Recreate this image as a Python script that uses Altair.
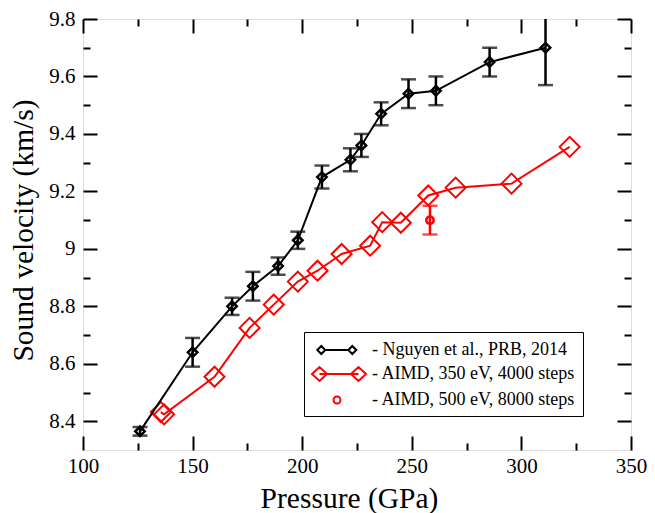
import altair as alt
import pandas as pd

# ---------------- data ----------------
nguyen_p = [126, 150, 168, 177.5, 189, 198, 209, 222, 227, 236, 248.5, 261, 285.5, 311]
nguyen_v = [8.365, 8.64, 8.80, 8.87, 8.94, 9.03, 9.25, 9.31, 9.36, 9.47, 9.54, 9.55, 9.65, 9.70]
nguyen_err = [0.015, 0.05, 0.03, 0.05, 0.03, 0.03, 0.04, 0.04, 0.04, 0.04, 0.05, 0.05, 0.05, 0.13]

aimd350_p = [135.5, 137, 160, 176, 187, 198, 207, 218, 231, 236.5, 245, 257.5, 270, 295.5, 322]
aimd350_v = [8.432, 8.424, 8.555, 8.725, 8.806, 8.886, 8.924, 8.982, 9.011, 9.093, 9.091, 9.186, 9.213, 9.227, 9.355]

aimd500_p = [258.3]
aimd500_v = [9.10]
aimd500_err = [0.05]

series_names = ["- Nguyen et al., PRB, 2014",
                "- AIMD, 350 eV, 4000 steps",
                "- AIMD, 500 eV, 8000 steps"]

x_major = [100, 150, 200, 250, 300, 350]
x_minor = [125, 175, 225, 275, 325]
y_major = [8.4, 8.6, 8.8, 9.0, 9.2, 9.4, 9.6, 9.8]
y_minor = [8.5, 8.7, 8.9, 9.1, 9.3, 9.5, 9.7]

# ---------------- tables ----------------
df_n = pd.DataFrame({"p": nguyen_p, "v": nguyen_v,
                     "lo": [v - e for v, e in zip(nguyen_v, nguyen_err)],
                     "hi": [v + e for v, e in zip(nguyen_v, nguyen_err)]})
df_a = pd.DataFrame({"p": aimd350_p, "v": aimd350_v})
df_b = pd.DataFrame({"p": aimd500_p, "v": aimd500_v,
                     "lo": [v - e for v, e in zip(aimd500_v, aimd500_err)],
                     "hi": [v + e for v, e in zip(aimd500_v, aimd500_err)]})
df_leg = pd.DataFrame({"p": [nguyen_p[0], aimd350_p[0], aimd500_p[0]],
                       "v": [nguyen_v[0], aimd350_v[0], aimd500_v[0]],
                       "series": series_names})

W, H = 548, 431
TOP = 11
FONT = "Liberation Serif, Times New Roman, Times, DejaVu Serif, serif"

xs = alt.Scale(domain=[100, 350], nice=False, zero=False)
ys = alt.Scale(domain=[8.3, 9.8], nice=False, zero=False)


def tick_axis(orient, values, size, offset):
    return alt.Axis(orient=orient, values=values, tickSize=size, tickWidth=2,
                    tickColor="black", labels=False, domain=False, grid=False,
                    title=None, offset=offset)


x_main = alt.Axis(orient="bottom", values=x_major, ticks=False, tickSize=0,
                  domain=False, grid=False, labelFont=FONT, labelFontSize=21,
                  labelColor="black", labelPadding=5, labelFlush=False,
                  labelOverlap=False,
                  title="Pressure (GPa)", titleFont=FONT, titleFontSize=29.5,
                  titleFontWeight="normal", titleColor="black",
                  titleX=266, titleY=57, titleBaseline="alphabetic")
y_main = alt.Axis(orient="left", values=y_major, format="~g", ticks=False,
                  tickSize=0, domain=False, grid=False, labelFont=FONT,
                  labelFontSize=21, labelColor="black", labelPadding=8,
                  labelFlush=False, labelOverlap=False,
                  title="Sound velocity (km/s)", titleFont=FONT,
                  titleFontSize=29.5, titleFontWeight="normal",
                  titleColor="black", titleX=-51, titleY=211,
                  titleBaseline="alphabetic")

axis_pairs = [
    (x_main, y_main),
    (tick_axis("top", x_major, 14, -H), tick_axis("right", y_major, 14, -W)),
    (tick_axis("top", x_minor, 7, -H), tick_axis("right", y_minor, 7, -W)),
    (tick_axis("bottom", x_major, 14, -H), tick_axis("left", y_major, 14, -W)),
    (tick_axis("bottom", x_minor, 7, -H), tick_axis("left", y_minor, 7, -W)),
]

axis_layers = [
    alt.Chart(df_n).mark_point(opacity=0).encode(
        x=alt.X("p:Q", scale=xs, axis=xa),
        y=alt.Y("v:Q", scale=ys, axis=ya))
    for xa, ya in axis_pairs
]

X = alt.X("p:Q", scale=xs, axis=None)
Y = alt.Y("v:Q", scale=ys, axis=None)

# red 350 eV
red_line = alt.Chart(df_a).mark_line(color="red", strokeWidth=2).encode(x=X, y=Y, order="p:Q")
red_pts = alt.Chart(df_a).mark_point(shape="diamond", size=400, filled=False,
                                     color="red", strokeWidth=2, opacity=1).encode(x=X, y=Y)

# red 500 eV
b_err = alt.Chart(df_b).mark_rule(color="red", strokeWidth=2.5).encode(
    x=X, y=alt.Y("lo:Q", scale=ys, axis=None), y2="hi:Q")
b_caps_lo = alt.Chart(df_b).mark_tick(color="red", orient="horizontal", size=15, thickness=2.5).encode(
    x=X, y=alt.Y("lo:Q", scale=ys, axis=None))
b_caps_hi = alt.Chart(df_b).mark_tick(color="red", orient="horizontal", size=15, thickness=2.5).encode(
    x=X, y=alt.Y("hi:Q", scale=ys, axis=None))
b_pt = alt.Chart(df_b).mark_point(shape="circle", size=55, filled=False,
                                  color="red", strokeWidth=2.5, opacity=1).encode(x=X, y=Y)

# black Nguyen
n_line = alt.Chart(df_n).mark_line(color="black", strokeWidth=2).encode(x=X, y=Y, order="p:Q")
n_err = alt.Chart(df_n).mark_rule(color="black", strokeWidth=2.5, clip=True).encode(
    x=X, y=alt.Y("lo:Q", scale=ys, axis=None), y2="hi:Q")
n_caps_lo = alt.Chart(df_n).mark_tick(color="black", orient="horizontal", size=15,
                                      thickness=2.5, clip=True).encode(
    x=X, y=alt.Y("lo:Q", scale=ys, axis=None))
n_caps_hi = alt.Chart(df_n).mark_tick(color="black", orient="horizontal", size=15,
                                      thickness=2.5, clip=True).encode(
    x=X, y=alt.Y("hi:Q", scale=ys, axis=None))
n_pts = alt.Chart(df_n).mark_point(shape="diamond", size=90, filled=False,
                                   color="black", strokeWidth=2.5, opacity=1).encode(x=X, y=Y)

# legend (symbols are custom paths: line + markers)
black_sym = "M-0.47,0L-0.07,-0.4L0.33,0L-0.07,0.4Z M2.63,0L3.03,-0.4L3.43,0L3.03,0.4Z M0.33,0L2.63,0"
red_sym = "M-1,0L-0.25,-0.7L0.5,0L-0.25,0.7Z M2.9,0L3.65,-0.7L4.4,0L3.65,0.7Z M-0.25,0L3.65,0"
circ_sym = "M1.15,0A0.35,0.35,0,1,1,1.85,0A0.35,0.35,0,1,1,1.15,0Z"

legend = alt.Legend(orient="none", legendX=221, legendY=313, title=None,
                    strokeColor="black", fillColor="white", padding=7,
                    rowPadding=4, labelFont=FONT, labelFontSize=18,
                    labelColor="black", labelLimit=400, labelOffset=39,
                    symbolSize=400, symbolStrokeWidth=2, symbolOpacity=1,
                    symbolFillColor="transparent")

leg_layer = alt.Chart(df_leg).mark_point(opacity=0, filled=False).encode(
    x=X, y=Y,
    color=alt.Color("series:N", scale=alt.Scale(domain=series_names,
                                               range=["black", "red", "red"]),
                    legend=legend),
    shape=alt.Shape("series:N", scale=alt.Scale(domain=series_names,
                                               range=[black_sym, red_sym, circ_sym]),
                    legend=legend),
)

chart = alt.layer(
    *axis_layers,
    red_line, red_pts, b_err, b_caps_lo, b_caps_hi, b_pt,
    n_line, n_err, n_caps_lo, n_caps_hi, n_pts,
    leg_layer,
).resolve_axis(x="independent", y="independent").properties(
    width=W, height=H,
    autosize=alt.AutoSizeParams(type="none"),
    padding={"left": 75, "top": TOP, "right": 16, "bottom": 64},
).configure_view(stroke="black", strokeWidth=2).configure(background="white")

chart.save("out.html", embed_options={"renderer": "svg", "actions": False})
